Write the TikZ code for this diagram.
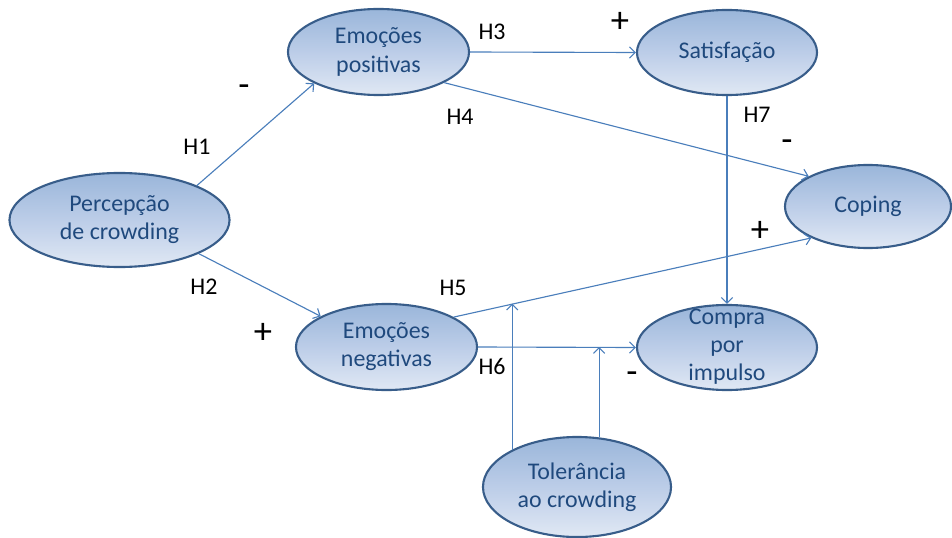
\documentclass[tikz,border=0pt]{standalone}
\usepackage{fontspec}
\setmainfont{Carlito}
\usepackage{tikz}
\usetikzlibrary{arrows.meta, shapes.geometric}
\definecolor{rimblue}{HTML}{385D8A}
\definecolor{inkblue}{HTML}{1F497D}
\definecolor{linkblue}{HTML}{4A7EBB}
\definecolor{filltop}{HTML}{9AB6DA}
\definecolor{fillmid}{HTML}{BCCDE8}
\definecolor{fillbot}{HTML}{E0E8F4}

\begin{document}
\begin{tikzpicture}[x=0.025cm, y=-0.025cm,
  construct/.style={ellipse, draw=rimblue, line width=1.5pt, top color=filltop, bottom color=fillbot,
    middle color=fillmid, text=inkblue, inner sep=0pt, align=center, font=\fontsize{17}{20}\selectfont},
  link/.style={-{Straight Barb[length=4pt, width=8pt]}, linkblue, line width=0.8pt},
  hyp/.style={font=\fontsize{17}{20}\selectfont},
  sign/.style={font=\fontsize{26}{26}\selectfont}]
  \useasboundingbox (0,0) rectangle (952,538);

  % constructs
  \node[construct, minimum width=5.5cm, minimum height=2.35cm] (perc) at (119.5,220) {Percepção\\de crowding};
  \node[construct, minimum width=4.525cm, minimum height=2.15cm] (pos) at (378.5,52) {Emoções\\positivas};
  \node[construct, minimum width=4.5cm, minimum height=2.125cm] (sat) at (727,52.5) {Satisfação};
  \node[construct, minimum width=4.15cm, minimum height=2.075cm] (cop) at (868,206.5) {Coping};
  \node[construct, minimum width=4.525cm, minimum height=2.15cm] (neg) at (386.5,347) {Emoções\\negativas};
  \node[construct, minimum width=4.5cm, minimum height=2.125cm] (cmp) at (727,347.5)
    {\smash{\raisebox{-4pt}{\begin{tabular}{@{}c@{}}Compra\\por\\impulso\end{tabular}}}};
  \node[construct, minimum width=4.7cm, minimum height=2.5cm] (tol) at (577,487) {Tolerância\\ao crowding};

  % hypotheses
  \draw[link] (perc.24) -- (pos.206);
  \draw[link] (perc.-23) -- (neg.155);
  \draw[link] (pos.east) -- (sat.west);
  \draw[link] (pos.-25) -- (cop.153);
  \draw[link] (neg.24) -- coordinate[pos=0.17] (m5) (cop.209);
  \draw[link] (neg.east) -- (cmp.west);
  \draw[link] (sat.south) -- (cmp.north);

  % moderation
  \draw[link] (tol.150) -- (tol.150 |- m5);
  \draw[link] (tol.66) -- (tol.66 |- neg.east);

  \node[hyp] (h1) at (197,147) {H1};
  \node[hyp] (h2) at (204,287) {H2};
  \node[hyp] (h3) at (492,32) {H3};
  \node[hyp] (h4) at (460,117) {H4};
  \node[hyp] (h5) at (453,288) {H5};
  \node[hyp] (h6) at (492,367) {H6};
  \node[hyp] (h7) at (757,115) {H7};

  \node[sign] (s1) at (244,91) {-};
  \node[sign] (s2) at (263,333) {+};
  \node[sign] (s3) at (620,22) {+};
  \node[sign] (s4) at (787,146) {-};
  \node[sign] (s5) at (760,231) {+};
  \node[sign] (s6) at (632,378) {-};
\end{tikzpicture}
\end{document}
